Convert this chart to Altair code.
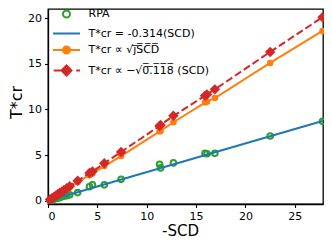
import altair as alt
import pandas as pd

# ---- data ----
x_vals = [0.2, 0.4, 0.6, 0.8, 1.0, 1.2, 1.4, 1.6, 1.9, 2.2, 3.0, 4.2, 4.5,
          5.7, 7.4, 11.3, 11.4, 12.7, 15.9, 16.1, 16.9, 22.5, 27.8]
rpa_y = [0.07, 0.12, 0.18, 0.25, 0.30, 0.35, 0.45, 0.50, 0.55, 0.65, 0.90, 1.55, 1.75,
         1.75, 2.35, 4.0, 3.6, 4.15, 5.2, 5.15, 5.2, 7.1, 8.7]
sqrt_y = [0.13, 0.27, 0.40, 0.54, 0.67, 0.80, 0.94, 1.07, 1.27, 1.47, 2.05, 2.8, 3.0,
          3.8, 4.9, 7.6, 7.65, 8.6, 10.75, 10.85, 11.25, 15.1, 18.6]
neg_y = [0.15, 0.29, 0.43, 0.58, 0.72, 0.87, 1.0, 1.15, 1.37, 1.6, 2.2, 3.05, 3.2,
         4.1, 5.35, 8.2, 8.3, 9.3, 11.5, 11.65, 12.2, 16.3, 20.1]
fit_x = [0.2, 27.8]
fit_y = [0.06, 8.73]

series_labels = ["RPA",
                 "T*cr = -0.314(SCD)",
                 "T*cr \u221d \u221aj\u0305S\u0305C\u0305D\u0305",
                 "T*cr \u221d \u2212\u221a0\u0305.\u03051\u03051\u03058\u0305 (SCD)"]
colors = ["#2ca02c", "#1f77b4", "#ff7f0e", "#d62728"]
fills = ["transparent", "transparent", "#ff7f0e", "#d62728"]
x_ticks = [0, 5, 10, 15, 20, 25]
y_ticks = [0, 5, 10, 15, 20]

rpa_df = pd.DataFrame({"x": x_vals, "y": rpa_y})
fit_df = pd.DataFrame({"x": fit_x, "y": fit_y})
sqrt_df = pd.DataFrame({"x": x_vals, "y": sqrt_y})
neg_df = pd.DataFrame({"x": x_vals, "y": neg_y})
# legend carrier rows: placed outside the x domain and clipped away
leg_df = pd.DataFrame({"x": [-5.0] * 4, "y": [1.0] * 4, "s": series_labels})

FONT = "DejaVu Sans"

xs = alt.Scale(domain=[0, 27.85], nice=False, zero=False)
ys = alt.Scale(domain=[-0.35, 21.0], nice=False, zero=False)

# legend symbol paths (unit = sqrt(size)/2 px)
circ = "M0.52,0A0.52,0.52 0 1,1 -0.52,0A0.52,0.52 0 1,1 0.52,0Z"
paths = [circ,
         "M-2,0L2,0",
         "M-2,0L2,0" + circ,
         "M-1.9,0L-0.8,0M1.44,0L2,0M0,-0.74L0.74,0L0,0.74L-0.74,0Z"]

legend = alt.Legend(
    orient="none", legendX=10.5, legendY=-3, title=None, padding=0,
    symbolSize=182, symbolStrokeWidth=2, symbolOpacity=1,
    labelOffset=14, rowPadding=3.5,
    labelFont=FONT, labelFontSize=11, labelColor="black", labelLimit=0,
)

xenc = alt.X("x:Q", scale=xs, axis=alt.Axis(values=x_ticks, title="-SCD", titleX=132,
                                            titleY=31, titleBaseline="alphabetic",
                                            titleFontSize=15, labelPadding=2.5))
yenc = alt.Y("y:Q", scale=ys, axis=alt.Axis(values=y_ticks, title="T*cr", titleX=-32,
                                            titleY=93, titleBaseline="middle",
                                            titleFontSize=16))

rpa = alt.Chart(rpa_df).mark_point(shape="circle", filled=False, size=32, color=colors[0],
                                   strokeWidth=2, opacity=1).encode(x=xenc, y=yenc)
fit = alt.Chart(fit_df).mark_line(strokeWidth=2, color=colors[1]).encode(x=xenc, y=yenc)
sqrt_line = alt.Chart(sqrt_df).mark_line(strokeWidth=2, color=colors[2]).encode(x=xenc, y=yenc)
sqrt_pts = alt.Chart(sqrt_df).mark_point(shape="circle", filled=True, size=42,
                                         color=colors[2], opacity=1).encode(x=xenc, y=yenc)
neg_line = alt.Chart(neg_df).mark_line(strokeWidth=2, strokeDash=[7.4, 3.2],
                                       color=colors[3]).encode(x=xenc, y=yenc)
neg_pts = alt.Chart(neg_df).mark_point(shape="diamond", filled=True, size=110,
                                       color=colors[3], opacity=1).encode(x=xenc, y=yenc)

leg = alt.Chart(leg_df).mark_point(filled=True, clip=True, strokeWidth=2, size=182,
                                   opacity=1).encode(
    x=xenc, y=yenc,
    shape=alt.Shape("s:N", scale=alt.Scale(domain=series_labels, range=paths), legend=legend),
    stroke=alt.Stroke("s:N", scale=alt.Scale(domain=series_labels, range=colors), legend=legend),
    fill=alt.Fill("s:N", scale=alt.Scale(domain=series_labels, range=fills), legend=legend),
)

chart = alt.layer(rpa, fit, sqrt_line, sqrt_pts, neg_line, neg_pts, leg).properties(
    width=275, height=195,
    autosize=alt.AutoSizeParams(type="none"),
    padding={"left": 40, "top": 1, "right": 1, "bottom": 34},
    background="white",
).configure_view(stroke="black", strokeWidth=1.3).configure_axis(
    grid=False, domainColor="black", domainWidth=1.3, tickColor="black", tickSize=3.5,
    tickWidth=1.1, labelFont=FONT, labelFontSize=11, labelColor="black", labelPadding=3,
    titleFont=FONT, titleColor="black", titleFontWeight="normal",
)

chart.save("out.html", embed_options={"renderer": "svg", "actions": False})
